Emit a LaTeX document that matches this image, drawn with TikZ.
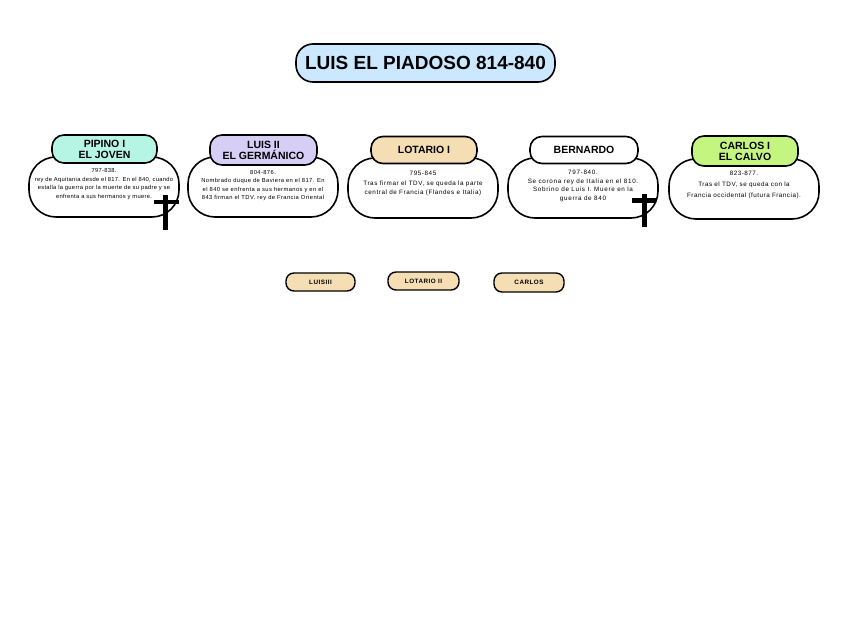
\documentclass[tikz,border=0pt]{standalone}
\usepackage{fontspec}
\setmainfont{Liberation Sans}
\definecolor{titlebg}{RGB}{204,232,255}
\definecolor{mint}{RGB}{182,245,228}
\definecolor{lav}{RGB}{214,206,245}
\definecolor{tan}{RGB}{245,222,180}
\definecolor{lime}{RGB}{196,245,128}
\tikzset{
  pill/.style={draw=black, line width=1.6pt, rounded corners=12pt, align=center, inner sep=0pt, font=\bfseries\fontsize{10.5}{11}\selectfont},
  bodybox/.style={draw=black, line width=1.6pt, fill=white, rounded corners=27pt, minimum width=150pt, minimum height=60pt, inner sep=0pt},
  bodytxt/.style={align=center, anchor=north, inner sep=0pt},
  smallpill/.style={draw=black, line width=1.4pt, rounded corners=8pt, fill=tan, minimum width=69pt, minimum height=18pt, inner sep=0pt, font=\bfseries\fontsize{6.3}{7}\selectfont\addfontfeature{LetterSpace=8}},
  crossline/.style={line width=4.4pt, black}
}
\begin{document}
\begin{tikzpicture}[x=1pt,y=-1pt]
\useasboundingbox (0,0) rectangle (848,636);
% title
\node[pill, fill=titlebg, minimum width=259pt, minimum height=38pt, rounded corners=17pt, font=\bfseries\fontsize{19}{20}\selectfont] (title) at (425.5,63) {LUIS EL PIADOSO 814-840};

% card 1
\node[bodybox] (b1) at (104,187) {};
\node[pill, fill=mint, minimum width=105pt, minimum height=28pt] (h1) at (104.5,149) {PIPINO I\\EL JOVEN};
\node[bodytxt, font=\fontsize{5.8}{8.5}\selectfont\addfontfeature{LetterSpace=5}] (t1) at (104,168.5) {797-838.\\rey de Aquitania desde el 817. En el 840, cuando\\estalla la guerra por la muerte de su padre y se\\enfrenta a sus hermanos y muere.};

% card 2
\node[bodybox] (b2) at (263,187) {};
\node[pill, fill=lav, minimum width=107pt, minimum height=30pt] (h2) at (263.5,150) {LUIS II\\EL GERMÁNICO};
\node[bodytxt, font=\fontsize{5.8}{8.5}\selectfont\addfontfeature{LetterSpace=7}] (t2) at (263,170) {804-876.\\Nombrado duque de Baviera en el 817. En\\el 840 se enfrenta a sus hermanos y en el\\843 firman el TDV. rey de Francia Oriental};

% card 3
\node[bodybox] (b3) at (423,188) {};
\node[pill, fill=tan, minimum width=106pt, minimum height=27pt] (h3) at (424,150) {LOTARIO I};
\node[bodytxt, font=\fontsize{6.3}{9.5}\selectfont\addfontfeature{LetterSpace=9}] (t3) at (423,171) {795-845\\Tras firmar el TDV, se queda la parte\\central de Francia (Flandes e Italia)};

% card 4
\node[bodybox] (b4) at (583,188) {};
\node[pill, fill=white, minimum width=108pt, minimum height=27pt] (h4) at (584,150) {BERNARDO};
\node[bodytxt, font=\fontsize{6.3}{8.5}\selectfont\addfontfeature{LetterSpace=11}] (t4) at (583,170) {797-840.\\Se corona rey de Italia en el 810.\\Sobrino de Luis I. Muere en la\\guerra de 840};

% card 5
\node[bodybox] (b5) at (744,189) {};
\node[pill, fill=lime, minimum width=106pt, minimum height=30pt] (h5) at (745,151) {CARLOS I\\EL CALVO};
\node[bodytxt, font=\fontsize{6.3}{11}\selectfont\addfontfeature{LetterSpace=8}] (t5) at (744,170.5) {823-877.\\Tras el TDV, se queda con la\\Francia occidental (futura Francia).};

% crosses
\coordinate (c1top) at (165.5,195);
\coordinate (c1bot) at (165.5,230);
\coordinate (c1l) at (154,202);
\coordinate (c1r) at (179,202);
\draw[crossline] (c1top) -- (c1bot);
\draw[crossline] (c1l) -- (c1r);
\coordinate (c4top) at (644.5,194);
\coordinate (c4bot) at (644.5,227);
\coordinate (c4l) at (632,200.5);
\coordinate (c4r) at (656,200.5);
\draw[crossline] (c4top) -- (c4bot);
\draw[crossline] (c4l) -- (c4r);

% small pills
\node[smallpill] (s1) at (320.5,282) {LUISIII};
\node[smallpill, minimum width=71pt] (s2) at (423.5,281) {LOTARIO II};
\node[smallpill, minimum width=70pt, minimum height=19pt] (s3) at (529,282.5) {CARLOS};
\end{tikzpicture}
\end{document}
